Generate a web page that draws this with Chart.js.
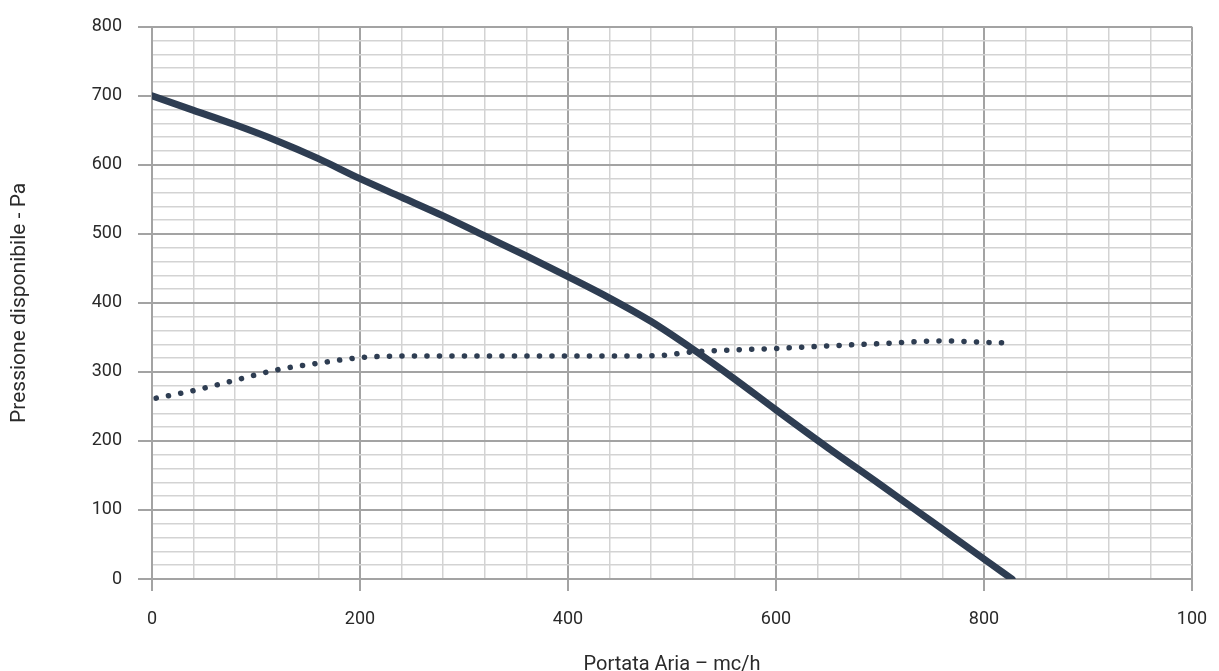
<!DOCTYPE html>
<html>
<head>
<meta charset="utf-8">
<script src="https://cdn.jsdelivr.net/npm/chart.js@4/dist/chart.umd.min.js"></script>
<style>
  html, body { margin: 0; padding: 0; background: #fff; }
  #wrap { width: 1219px; height: 671px; }
</style>
</head>
<body>
<div id="wrap"><canvas id="curve"></canvas></div>
<script>
// === DATA ===
const flowSolid = [0, 40, 80, 120, 160, 200, 240, 280, 320, 360, 400, 440, 480, 520, 560, 600, 650, 700, 750, 800, 827];
const pressSolid = [700, 679, 658, 635, 609, 580, 553, 526, 497, 468, 438, 407, 373, 333, 290, 245, 190, 137, 83, 29, 0];

const flowDotted = [4, 40, 75, 120, 157, 203, 250, 300, 350, 400, 450, 490, 520, 560, 600, 640, 700, 760, 800, 826];
const pressDotted = [262, 273, 286, 303, 312, 321, 323, 323, 323, 323, 323, 324, 329, 332, 334, 337, 341, 345, 343, 342];

const xTickValues = [0, 200, 400, 600, 800, 1000];
const xTickLabels = ["0", "200", "400", "600", "800", "100"];
const yTickValues = [0, 100, 200, 300, 400, 500, 600, 700, 800];
const yTickLabels = ["0", "100", "200", "300", "400", "500", "600", "700", "800"];

// === STYLE ===
const lineColor = "#2e3d52";
const majorGrid = "#a3a3a3";
const minorGrid = "#d3d3d3";
const textColor = "#2a2a2a";

function toPoints(xs, ys) {
    return xs.map((x, i) => ({ x: x, y: ys[i] }));
}

function isMajor(values, v) {
    return values.indexOf(v) !== -1;
}

const ctx = document.getElementById("curve").getContext("2d");

new Chart(ctx, {
    type: "line",
    data: {
        datasets: [
            {
                data: toPoints(flowSolid, pressSolid),
                borderColor: lineColor,
                borderWidth: 7,
                borderCapStyle: "round",
                borderJoinStyle: "round",
                pointRadius: 0,
                cubicInterpolationMode: "monotone",
                fill: false
            },
            {
                data: toPoints(flowDotted, pressDotted),
                borderColor: lineColor,
                borderWidth: 5.5,
                borderDash: [0.1, 12.4],
                borderCapStyle: "round",
                pointRadius: 0,
                cubicInterpolationMode: "monotone",
                fill: false
            }
        ]
    },
    options: {
        responsive: true,
        maintainAspectRatio: false,
        animation: false,
        layout: { padding: { top: 26, right: 27, left: 0, bottom: 0 } },
        plugins: {
            legend: { display: false },
            tooltip: { enabled: false }
        },
        scales: {
            x: {
                type: "linear",
                min: 0,
                max: 1000,
                afterFit: scale => {
                    scale.height = 92;
                    scale.paddingRight = 0;
                },
                ticks: {
                    stepSize: 40,
                    autoSkip: false,
                    maxRotation: 0,
                    padding: 18,
                    color: textColor,
                    font: { family: "Roboto", size: 18 },
                    callback: v => {
                        const i = xTickValues.indexOf(v);
                        return i === -1 ? "" : xTickLabels[i];
                    }
                },
                grid: {
                    color: c => isMajor(xTickValues, c.tick.value) ? majorGrid : minorGrid,
                    lineWidth: c => isMajor(xTickValues, c.tick.value) ? 2 : 1.5,
                    tickColor: c => isMajor(xTickValues, c.tick.value) ? majorGrid : "rgba(0,0,0,0)",
                    tickLength: 12
                },
                border: { color: majorGrid, width: 2 },
                title: {
                    display: true,
                    text: "Portata Aria – mc/h",
                    color: textColor,
                    font: { family: "Roboto", size: 20 },
                    padding: { top: 0, bottom: -6 }
                }
            },
            y: {
                type: "linear",
                min: 0,
                max: 800,
                afterFit: scale => { scale.width = 152; },
                ticks: {
                    stepSize: 20,
                    autoSkip: false,
                    padding: 16,
                    color: textColor,
                    font: { family: "Roboto", size: 18 },
                    callback: v => {
                        const i = yTickValues.indexOf(v);
                        return i === -1 ? "" : yTickLabels[i];
                    }
                },
                grid: {
                    color: c => isMajor(yTickValues, c.tick.value) ? majorGrid : minorGrid,
                    lineWidth: c => isMajor(yTickValues, c.tick.value) ? 2 : 1.5,
                    tickColor: c => isMajor(yTickValues, c.tick.value) ? majorGrid : "rgba(0,0,0,0)",
                    tickLength: 14
                },
                border: { color: majorGrid, width: 2 },
                title: {
                    display: true,
                    text: "Pressione disponibile - Pa",
                    color: textColor,
                    font: { family: "Roboto", size: 21 },
                    padding: { top: 7, bottom: 0 }
                }
            }
        }
    }
});
</script>
</body>
</html>
